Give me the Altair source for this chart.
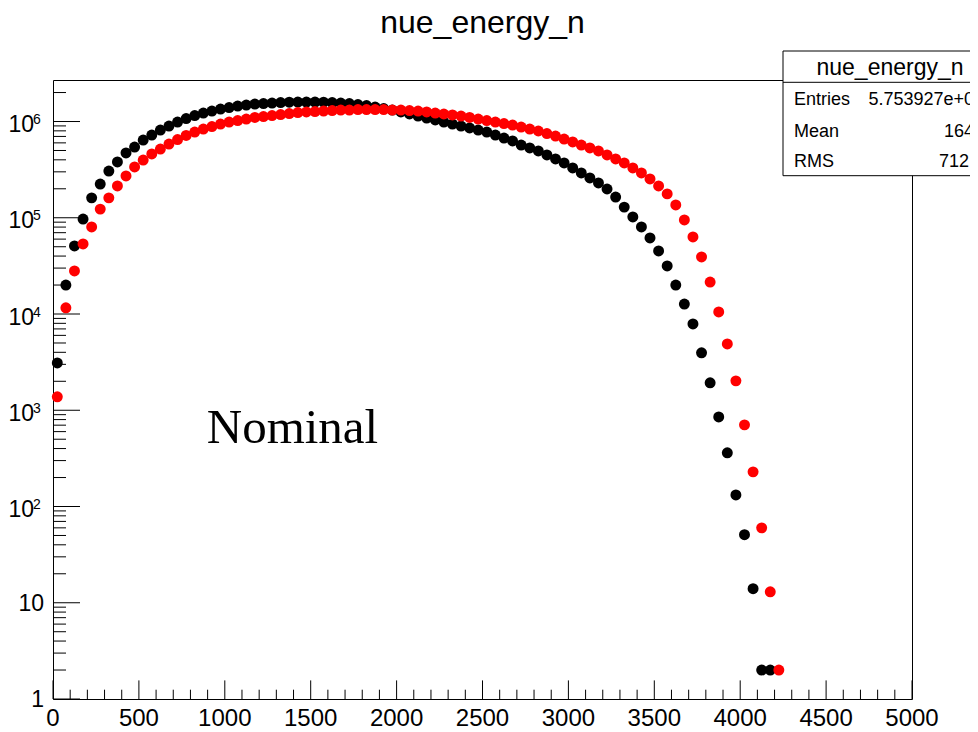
import altair as alt
import pandas as pd

title_text = "nue_energy_n"
annotation_text = "Nominal"
bin_width = 50

black_counts = [3100, 20000, 51000, 97000, 161000, 224000, 306000, 380000, 471000, 543000,
                642000, 724000, 816000, 898000, 988000, 1074000, 1154000, 1225000, 1285000, 1349000,
                1397000, 1448000, 1483000, 1520000, 1538000, 1556000, 1574000, 1586000, 1594000, 1594000,
                1594000, 1586000, 1574000, 1556000, 1538000, 1501000, 1465000, 1415000, 1365000, 1316000,
                1256000, 1197000, 1141000, 1087000, 1037000, 988000, 942000, 898000, 857000, 816000,
                778000, 724000, 674000, 628000, 570000, 531000, 494000, 449000, 408000, 371000,
                329000, 292000, 259000, 230000, 199000, 164000, 129000, 102000, 80200, 61700,
                45200, 31600, 20000, 12700, 7890, 3950, 1930, 853, 361, 132,
                51, 14, 2, 2]

red_counts = [1380, 11600, 28000, 53500, 80200, 123000, 161000, 214000, 272000, 337000,
              398000, 460000, 518000, 583000, 650000, 716000, 778000, 836000, 887000, 942000,
              988000, 1024000, 1062000, 1101000, 1127000, 1154000, 1182000, 1210000, 1239000, 1256000,
              1270000, 1285000, 1301000, 1316000, 1316000, 1332000, 1332000, 1332000, 1332000, 1316000,
              1316000, 1301000, 1285000, 1256000, 1225000, 1197000, 1169000, 1141000, 1101000, 1062000,
              1024000, 988000, 953000, 920000, 877000, 836000, 797000, 750000, 707000, 658000,
              613000, 570000, 531000, 494000, 449000, 408000, 371000, 329000, 292000, 253000,
              214000, 177000, 136000, 94900, 63200, 39200, 21500, 10500, 4890, 2020,
              705, 229, 60, 13, 2]

stats_labels = ["Entries", "Mean", "RMS"]
stats_values = ["5.753927e+07", "1646", "712.4"]

x_major = [0, 500, 1000, 1500, 2000, 2500, 3000, 3500, 4000, 4500, 5000]
x_tick_labels = ["0", "500", "1000", "1500", "2000", "2500", "3000", "3500", "4000", "4500", "5000"]
x_minor = [v for v in range(100, 5000, 100) if v % 500 != 0]
y_major = [1, 10, 100, 1000, 10000, 100000, 1000000]
y_label_base = ["1", "10", "10", "10", "10", "10", "10"]
y_label_exp = ["", "", "2", "3", "4", "5", "6"]
y_minor = [m * d for d in [1, 10, 100, 1000, 10000, 100000, 1000000] for m in range(2, 10) if m * d < 2.7e6]

W, H = 859, 619
FONT = "Liberation Sans"

black_df = pd.DataFrame({"energy": [bin_width / 2 + bin_width * i for i in range(len(black_counts))],
                         "count": black_counts})
red_df = pd.DataFrame({"energy": [bin_width / 2 + bin_width * i for i in range(len(red_counts))],
                       "count": red_counts})

xscale = alt.Scale(domain=[0, 5000], nice=False, zero=False)
yscale = alt.Scale(type="log", domain=[1, 2.7e6], nice=False)

black_pts = alt.Chart(black_df).mark_circle(size=120, color="#000000", opacity=1).encode(
    x=alt.X("energy:Q", scale=xscale, axis=None),
    y=alt.Y("count:Q", scale=yscale, axis=None),
)
red_pts = alt.Chart(red_df).mark_circle(size=120, color="#ff0000", opacity=1).encode(
    x=alt.X("energy:Q", scale=xscale, axis=None),
    y=alt.Y("count:Q", scale=yscale, axis=None),
)

def yticks(vals, length):
    return alt.Chart(pd.DataFrame({"v": vals})).mark_rule(color="black", strokeWidth=1).encode(
        y=alt.Y("v:Q", scale=yscale, axis=None), x=alt.value(0), x2=alt.value(length))

def xticks(vals, length):
    return alt.Chart(pd.DataFrame({"v": vals})).mark_rule(color="black", strokeWidth=1).encode(
        x=alt.X("v:Q", scale=xscale, axis=None), y=alt.value(H), y2=alt.value(H - length))

def fixed_text(text, x, y, size, align, font=FONT):
    return alt.Chart(pd.DataFrame({"t": [text]})).mark_text(
        font=font, fontSize=size, align=align, baseline="alphabetic", color="black"
    ).encode(x=alt.value(x), y=alt.value(y), text="t:N")

# axis labels (ROOT style)
xlab_df = pd.DataFrame({"v": x_major, "t": x_tick_labels})
x_labels = alt.Chart(xlab_df).mark_text(font=FONT, fontSize=24, align="center", baseline="alphabetic",
                                        color="black").encode(
    x=alt.X("v:Q", scale=xscale, axis=None), y=alt.value(H + 27), text="t:N")

ylab_df = pd.DataFrame({"v": y_major, "base": y_label_base, "exp": y_label_exp})
plain_df = ylab_df[ylab_df["exp"] == ""]
pow_df = ylab_df[ylab_df["exp"] != ""]
y_plain = alt.Chart(plain_df).mark_text(font=FONT, fontSize=23, align="right", baseline="alphabetic",
                                        color="black", dy=8).encode(
    x=alt.value(-9), y=alt.Y("v:Q", scale=yscale, axis=None), text="base:N")
y_base = alt.Chart(pow_df).mark_text(font=FONT, fontSize=23, align="right", baseline="alphabetic",
                                     color="black", dy=10.5).encode(
    x=alt.value(-19), y=alt.Y("v:Q", scale=yscale, axis=None), text="base:N")
y_exp = alt.Chart(pow_df).mark_text(font=FONT, fontSize=14, align="left", baseline="alphabetic",
                                    color="black", dy=2.7).encode(
    x=alt.value(-20), y=alt.Y("v:Q", scale=yscale, axis=None), text="exp:N")

title_mark = fixed_text(title_text, W / 2, -47, 32, "center")

nominal = alt.Chart(pd.DataFrame({"t": [annotation_text], "x": [895], "y": [460]})).mark_text(
    font="Liberation Serif", fontSize=49, align="left", baseline="alphabetic", color="black"
).encode(x=alt.X("x:Q", scale=xscale, axis=None), y=alt.Y("y:Q", scale=yscale, axis=None), text="t:N")

box = alt.Chart(pd.DataFrame({"k": [0]})).mark_rect(fill="white", stroke="black", strokeWidth=1).encode(
    x=alt.value(730), x2=alt.value(944), y=alt.value(-29), y2=alt.value(95.7))
sep = alt.Chart(pd.DataFrame({"k": [0]})).mark_rule(color="black", strokeWidth=1).encode(
    x=alt.value(730), x2=alt.value(944), y=alt.value(2.3))
box_title = fixed_text(title_text, 837, -5, 23, "center")

row_y = [25, 57.3, 87.3]
stats_layers = []
for lab, val, yy in zip(stats_labels, stats_values, row_y):
    stats_layers.append(fixed_text(lab, 741, yy, 18, "left"))
    stats_layers.append(fixed_text(val, 931, yy, 18, "right"))

chart = alt.layer(
    yticks(y_major, 27), yticks(y_minor, 13), xticks(x_major, 18.6), xticks(x_minor, 9.3),
    black_pts, red_pts, nominal, x_labels, y_plain, y_base, y_exp,
    title_mark, box, sep, box_title, *stats_layers
).properties(
    width=W, height=H,
    padding={"left": 45, "top": 72, "right": 58, "bottom": 30},
    autosize=alt.AutoSizeParams(type="none"),
    background="white",
).configure_view(stroke="black", strokeWidth=1)

chart.save("out.html", embed_options={"renderer": "svg", "actions": False})
